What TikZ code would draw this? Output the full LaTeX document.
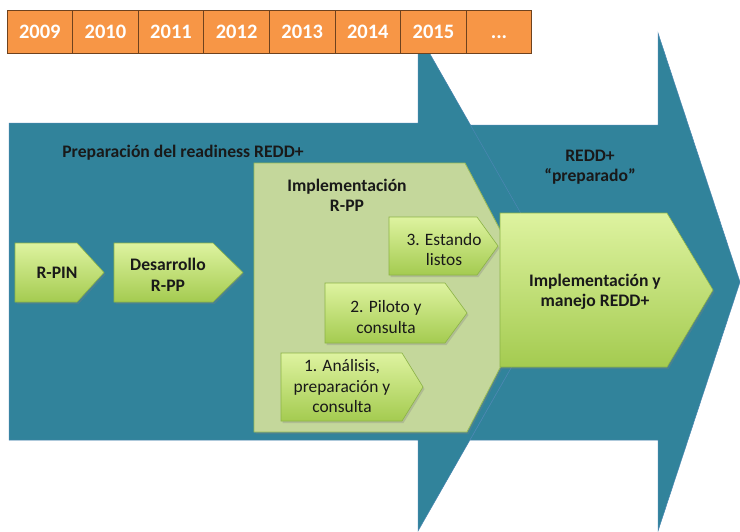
\documentclass[tikz,border=0pt]{standalone}
\usepackage{fontspec}
\setmainfont{Carlito}
\usetikzlibrary{shadows}
\definecolor{tealc}{RGB}{49,131,155}
\definecolor{tealedge}{RGB}{74,134,178}
\definecolor{olivec}{RGB}{196,215,155}
\definecolor{oliveedge}{RGB}{150,185,85}
\definecolor{gtop}{RGB}{222,243,160}
\definecolor{gbot}{RGB}{164,203,80}
\definecolor{gedge}{RGB}{140,180,70}
\definecolor{orangec}{RGB}{247,150,70}
\definecolor{yearedge}{RGB}{110,66,30}
\definecolor{txt}{RGB}{25,25,25}
\tikzset{
  tealshape/.style={fill=tealc, draw=tealedge, line width=0.5pt},
  oliveshape/.style={fill=olivec, draw=oliveedge, line width=0.8pt,
    drop shadow={opacity=0.3, shadow xshift=1.5pt, shadow yshift=-2pt}},
  greenarrow/.style={top color=gtop, bottom color=gbot, draw=gedge, line width=0.6pt,
    drop shadow={opacity=0.3, shadow xshift=1.5pt, shadow yshift=-2pt}},
  lbl/.style={font=\bfseries\fontsize{17.6}{20.5}\selectfont, align=center, text=txt, inner sep=0pt},
  sublbl/.style={font=\fontsize{17.4}{20.5}\selectfont, align=center, text=txt, inner sep=0pt},
  yearbox/.style={draw=yearedge, fill=orangec, line width=1pt, minimum width=65.6pt,
    minimum height=43pt, inner sep=0pt, text=white, font=\bfseries\fontsize{20.5}{22}\selectfont}
}
\newcommand\hplate[5]{%
  \path[greenarrow] (#1,#2) -- (#3,#2) -- (#4,{(#2+#5)/2}) -- (#3,#5) -- (#1,#5) -- cycle;}
\begin{document}
\begin{tikzpicture}[x=1pt,y=-1pt]
\useasboundingbox[fill=white] (0,0) rectangle (740,531);
% second big arrow (behind)
\path[tealshape] (470,125) -- (658,125) -- (658,33) -- (740,282) -- (658,531) -- (658,440) -- (470,440) -- (560,282) -- cycle;
% first big arrow
\path[tealshape] (9,123) -- (418,123) -- (418,33) -- (560,282) -- (418,531) -- (418,440) -- (9,440) -- cycle;
% light olive pentagon
\path[oliveshape] (254,163) -- (465,163) -- (536,298) -- (467,432) -- (254,432) -- cycle;
% green arrows
\hplate{15}{243}{77}{104}{302}
\hplate{114}{243}{213}{243}{302}
\hplate{389}{217}{477}{498}{275}
\hplate{325}{283}{445}{467}{343}
\hplate{281}{353}{402}{423}{421}
\hplate{500}{213}{667}{713}{367}
% labels
\node[lbl] (prep) at (183,153) {Preparación del readiness REDD+};
\node[lbl] (ready) at (590,167) {REDD+\\“preparado”};
\node[lbl] (impl) at (347,195.5) {Implementación\\R-PP};
\node[lbl] (rpin) at (57,273) {R-PIN};
\node[lbl] (desa) at (168,275) {Desarrollo\\R-PP};
\node[sublbl] (s3) at (444,249.5) {3. Estando\\listos};
\node[sublbl] (s2) at (386,317) {2. Piloto y\\consulta};
\node[sublbl] (s1) at (342,386.5) {1. Análisis,\\preparación y\\consulta};
\node[lbl] (mgmt) at (595,292) {Implementación y\\manejo REDD+};
% years
\foreach \yr [count=\i from 0] in {2009,2010,2011,2012,2013,2014,2015}
  \node[yearbox] (y\i) at ({7+65.6*(\i+0.5)},31.5) {\yr};
\node[yearbox] (y7) at ({7+65.6*7.5},31.5) {\vphantom{0}...};
\end{tikzpicture}
\end{document}
